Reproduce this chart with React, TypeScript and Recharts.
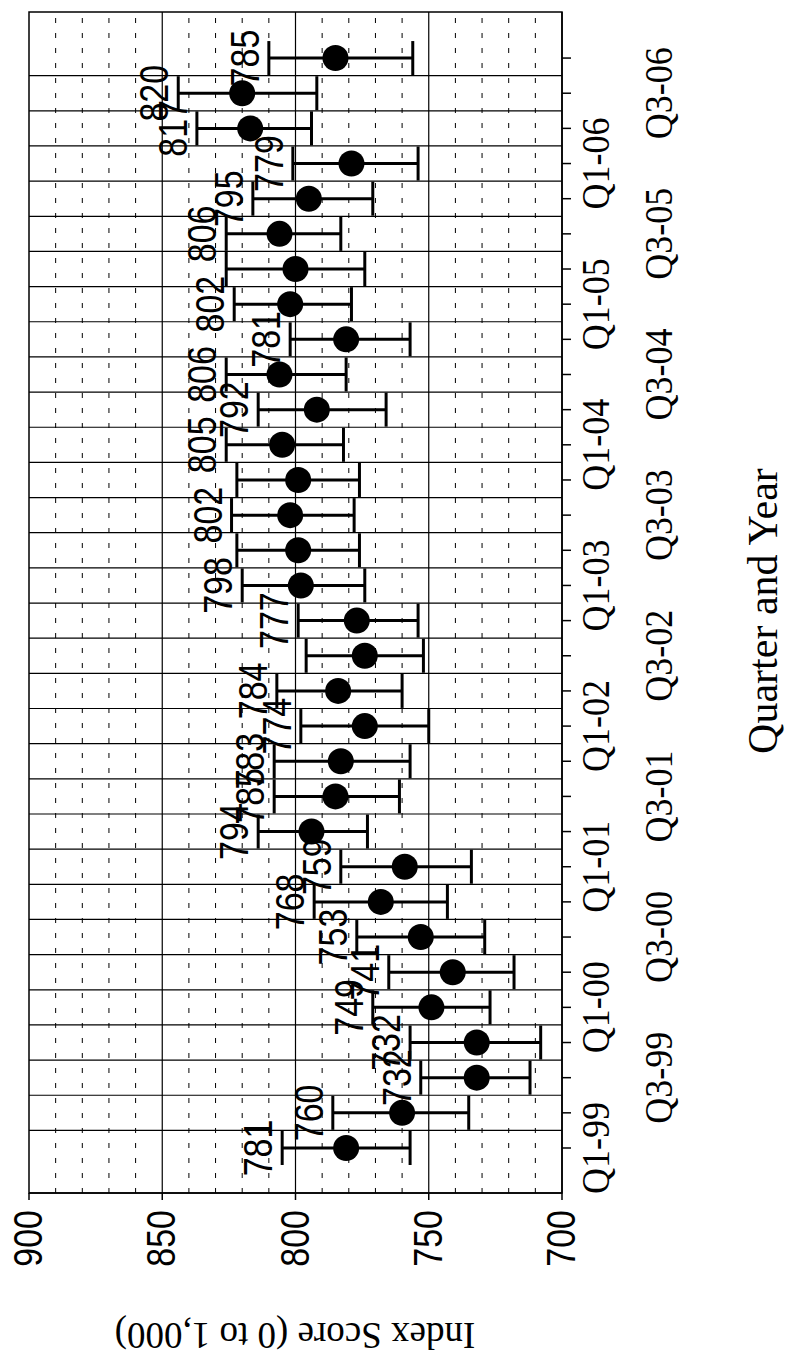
import {
  ComposedChart, Scatter, ErrorBar, XAxis, YAxis, ReferenceLine, ReferenceArea,
} from "recharts";

const quarters = [
  "Q1-99", "Q2-99", "Q3-99", "Q4-99", "Q1-00", "Q2-00", "Q3-00", "Q4-00",
  "Q1-01", "Q2-01", "Q3-01", "Q4-01", "Q1-02", "Q2-02", "Q3-02", "Q4-02",
  "Q1-03", "Q2-03", "Q3-03", "Q4-03", "Q1-04", "Q2-04", "Q3-04", "Q4-04",
  "Q1-05", "Q2-05", "Q3-05", "Q4-05", "Q1-06", "Q2-06", "Q3-06", "Q4-06",
];
const scores = [
  781, 760, 732, 732, 749, 741, 753, 768, 759, 794, 785, 783, 774, 784, 774, 777,
  798, 799, 802, 799, 805, 792, 806, 781, 802, 800, 806, 795, 779, 817, 820, 785,
];
const lower = [
  757, 735, 712, 708, 727, 718, 729, 743, 734, 773, 761, 757, 750, 760, 752, 754,
  774, 776, 778, 776, 782, 766, 781, 757, 779, 774, 783, 771, 754, 794, 792, 756,
];
const upper = [
  805, 786, 753, 757, 771, 765, 777, 793, 783, 814, 808, 808, 798, 807, 796, 799,
  820, 822, 824, 822, 826, 814, 826, 802, 823, 826, 826, 816, 801, 837, 844, 810,
];
// printed value labels (some quarters carry none)
const labels = [
  781, 760, 732, 732, 749, 741, 753, 768, 759, 794, 785, 783, 774, 784, null, 777,
  798, null, 802, null, 805, 792, 806, 781, 802, null, 806, 795, 779, 817, 820, 785,
];
const yTicks = [700, 750, 800, 850, 900];

const SANS = '"Liberation Sans", Arial, sans-serif';
const SERIF = '"Liberation Serif", "Times New Roman", serif';
const X_DOMAIN: [number, number] = [-1.28, 32.31];

const points = quarters.map((q, i) => ({
  x: i,
  y: scores[i],
  err: [scores[i] - lower[i], upper[i] - scores[i]],
}));
const labelPoints = quarters.map((q, i) => ({ x: i, y: upper[i], label: labels[i] }));

const minorLines: number[] = [];
for (let v = 710; v < 900; v += 10) if (v % 50 !== 0) minorLines.push(v);
const majorLines = [750, 800, 850];
const bandLines = quarters.slice(1).map((_, i) => i + 0.5);

function QuarterTick({ x, y, payload }: any) {
  const i = payload.value as number;
  if (i % 2 !== 0) return <g />;
  const row = i % 4 === 0 ? 0 : 1;
  return (
    <g transform={`translate(${x},${y + 38 + row * 63}) scale(0.9,1)`}>
      <text textAnchor="middle" fontFamily={SERIF} fontSize={40} fill="#000">
        {quarters[i]}
      </text>
    </g>
  );
}

function ScoreTick({ x, y, payload }: any) {
  return (
    <g transform={`translate(${x - 10},${y + 13}) scale(0.85,1)`}>
      <text textAnchor="end" fontFamily={SANS} fontSize={40} fill="#000">
        {payload.value}
      </text>
    </g>
  );
}

function Dot(p: any) {
  return <circle cx={p.cx} cy={p.cy} r={13} fill="#000" />;
}

function ValueLabel(p: any) {
  const v = p.payload?.label;
  if (v == null) return <g />;
  return (
    <g transform={`translate(${p.cx},${p.cy - 10}) scale(0.85,1)`}>
      <text textAnchor="middle" fontFamily={SANS} fontSize={40} fill="#000">
        {v}
      </text>
    </g>
  );
}

function Chart() {
  return (
    <div style={{ position: "relative", width: 1360, height: 786 }}>
      <ComposedChart
        width={1360}
        height={786}
        margin={{ top: 29, right: 12, left: 0, bottom: 0 }}
      >
        <XAxis
          type="number"
          dataKey="x"
          domain={X_DOMAIN}
          allowDataOverflow
          ticks={quarters.map((_, i) => i)}
          interval={0}
          height={224}
          tickSize={9}
          tickMargin={0}
          axisLine={{ stroke: "#000", strokeWidth: 1.5 }}
          tickLine={{ stroke: "#000", strokeWidth: 1.5 }}
          tick={<QuarterTick />}
        />
        <YAxis
          type="number"
          dataKey="y"
          domain={[700, 900]}
          allowDataOverflow
          ticks={yTicks}
          interval={0}
          width={167}
          tickSize={7}
          tickMargin={0}
          axisLine={{ stroke: "#000", strokeWidth: 1.5 }}
          tickLine={{ stroke: "#000", strokeWidth: 1.5 }}
          tick={<ScoreTick />}
        />
        {minorLines.map((v) => (
          <ReferenceLine key={"m" + v} y={v} stroke="#000" strokeWidth={1} strokeDasharray="5 10" />
        ))}
        {majorLines.map((v) => (
          <ReferenceLine key={"M" + v} y={v} stroke="#000" strokeWidth={1.2} />
        ))}
        {bandLines.map((v) => (
          <ReferenceLine key={"b" + v} x={v} stroke="#000" strokeWidth={1.2} />
        ))}
        <ReferenceArea
          x1={X_DOMAIN[0]}
          x2={X_DOMAIN[1]}
          y1={700}
          y2={900}
          fill="none"
          fillOpacity={0}
          stroke="#000"
          strokeWidth={1.5}
        />
        <Scatter data={points} shape={<Dot />} isAnimationActive={false}>
          <ErrorBar dataKey="err" direction="y" width={17} strokeWidth={3} stroke="#000" />
        </Scatter>
        <Scatter data={labelPoints} shape={<ValueLabel />} isAnimationActive={false} />
      </ComposedChart>
      <svg
        width={1360}
        height={786}
        style={{ position: "absolute", left: 0, top: 0, pointerEvents: "none" }}
      >
        <text x={749} y={777} textAnchor="middle" fontFamily={SERIF} fontSize={42} fill="#000">
          Quarter and Year
        </text>
        <text
          transform="translate(37,295) rotate(-90)"
          textAnchor="middle"
          fontFamily={SERIF}
          fontSize={37}
          fill="#000"
        >
          Index Score (0 to 1,000)
        </text>
      </svg>
    </div>
  );
}

export default function App() {
  return (
    <div
      style={{
        position: "absolute",
        left: 0,
        top: 0,
        width: 786,
        height: 1360,
        overflow: "hidden",
        background: "#fff",
      }}
    >
      <div
        style={{
          position: "absolute",
          left: 0,
          top: 1360,
          width: 1360,
          height: 786,
          transform: "rotate(-90deg)",
          transformOrigin: "0 0",
        }}
      >
        <Chart />
      </div>
    </div>
  );
}
